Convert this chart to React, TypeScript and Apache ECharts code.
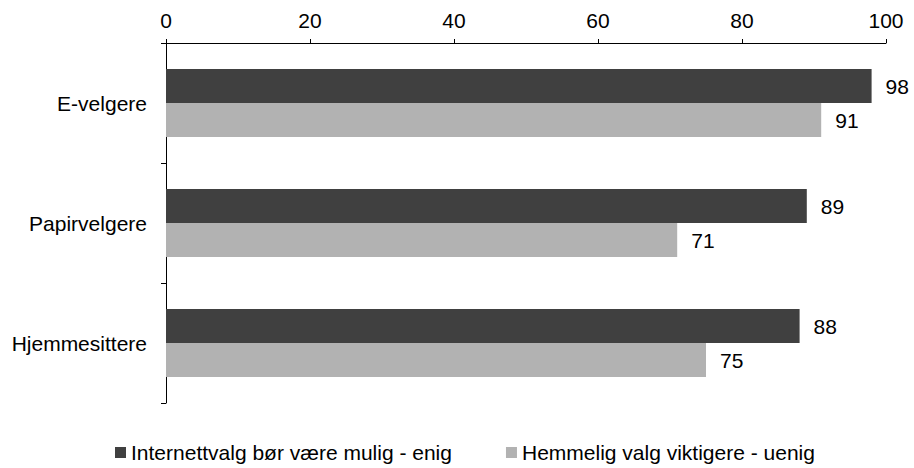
import React, { useEffect, useRef } from "react";
import * as echarts from "echarts";

const categories = ["E-velgere", "Papirvelgere", "Hjemmesittere"];
const seriesNames = ["Internettvalg bør være mulig - enig", "Hemmelig valg viktigere - uenig"];
const internettEnig = [98, 89, 88];
const hemmeligUenig = [91, 71, 75];
const colors = ["#404040", "#b2b2b2"];
const FONT = "Liberation Sans, Arial, sans-serif";
const FS = 21;

export default function App() {
  const ref = useRef<HTMLDivElement>(null);
  useEffect(() => {
    document.body.style.margin = "0";
    if (!ref.current) return;
    const chart = echarts.init(ref.current, undefined, { renderer: "svg" });
    const label = {
      show: true,
      position: "right",
      distance: 14,
      color: "#000",
      fontSize: FS,
      fontFamily: FONT,
    };
    chart.setOption({
      animation: false,
      backgroundColor: "#fff",
      grid: { left: 166, right: 28, top: 43, bottom: 65, containLabel: false },
      legend: {
        top: 442,
        left: 115,
        padding: 0,
        itemWidth: 11,
        itemHeight: 11,
        itemGap: 54,
        icon: "rect",
        textStyle: { color: "#000", fontSize: FS, fontFamily: FONT },
        data: seriesNames,
      },
      xAxis: {
        type: "value",
        position: "top",
        min: 0,
        max: 100,
        interval: 20,
        splitLine: { show: false },
        axisLine: { show: true, lineStyle: { color: "#000", width: 1 } },
        axisTick: { show: true, length: 4, lineStyle: { color: "#000" } },
        axisLabel: { color: "#000", fontSize: FS, fontFamily: FONT, margin: 12 },
      },
      yAxis: {
        type: "category",
        inverse: true,
        data: categories,
        axisLine: { show: true, lineStyle: { color: "#000", width: 1 } },
        axisTick: { show: true, length: 5, lineStyle: { color: "#000" } },
        axisLabel: { color: "#000", fontSize: FS, fontFamily: FONT, margin: 19 },
      },
      series: [
        {
          name: seriesNames[0],
          type: "bar",
          data: internettEnig,
          itemStyle: { color: colors[0] },
          barWidth: 34,
          barGap: "0%",
          label,
        },
        {
          name: seriesNames[1],
          type: "bar",
          data: hemmeligUenig,
          itemStyle: { color: colors[1] },
          barWidth: 34,
          barGap: "0%",
          label,
        },
      ],
    });
    return () => chart.dispose();
  }, []);
  return <div ref={ref} style={{ width: 914, height: 468 }} />;
}
